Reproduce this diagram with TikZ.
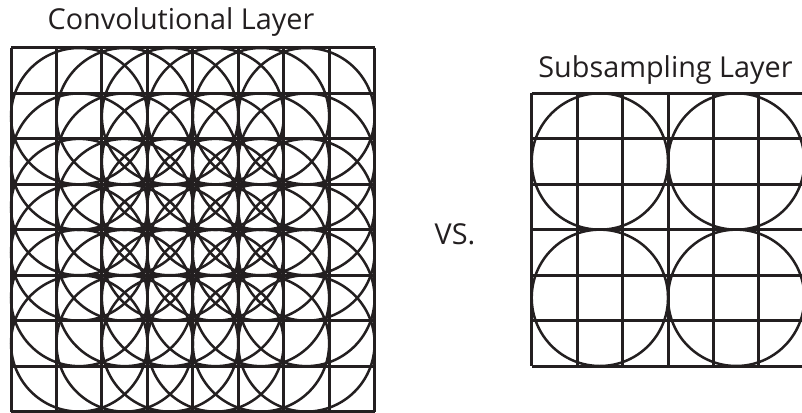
\documentclass[tikz,border=0pt]{standalone}
\usepackage{fontspec}
\setmainfont{Open Sans}
\definecolor{ink}{HTML}{231F20}
\begin{document}
\begin{tikzpicture}[x=1pt,y=-1pt,
  gridline/.style={draw=ink,line width=3pt},
  ringline/.style={draw=ink,line width=2.5pt},
  titletext/.style={text=ink,font=\fontsize{28.8}{32}\selectfont,inner sep=0pt,anchor=base}]
\useasboundingbox (0,0) rectangle (802,412);
\def\s{45.45}
\begin{scope}
\clip (0,0) rectangle (802,412);
% convolutional layer: 3x3 receptive fields, stride 1
\foreach \k in {0,...,5}{
  \foreach \m in {0,...,5}{
    \draw[ringline] ({11+(\k+1.5)*\s},{48+(\m+1.5)*\s}) circle ({1.5*\s});
  }
}
\foreach \i in {0,...,8}{
  \draw[gridline] ({11+\i*\s},48) -- ({11+\i*\s},{48+8*\s});
  \draw[gridline] (11,{48+\i*\s}) -- ({11+8*\s},{48+\i*\s});
}
% subsampling layer: 3x3 receptive fields, stride 3
\foreach \k in {0,1}{
  \foreach \m in {0,1}{
    \draw[ringline] ({531.7+(1.5+3*\k)*\s},{93.3+(1.5+3*\m)*\s}) circle ({1.5*\s});
  }
}
\foreach \i in {0,...,6}{
  \draw[gridline] ({531.7+\i*\s},93.3) -- ({531.7+\i*\s},{93.3+6*\s});
  \draw[gridline] (531.7,{93.3+\i*\s}) -- ({531.7+6*\s},{93.3+\i*\s});
}
\end{scope}
\node[titletext] (conv) at (181,29.3) {Convolutional Layer};
\node[titletext] (sub) at (665.5,77.3) {Subsampling Layer};
\node[titletext] (vs) at (455,244.3) {VS.};
\end{tikzpicture}
\end{document}
